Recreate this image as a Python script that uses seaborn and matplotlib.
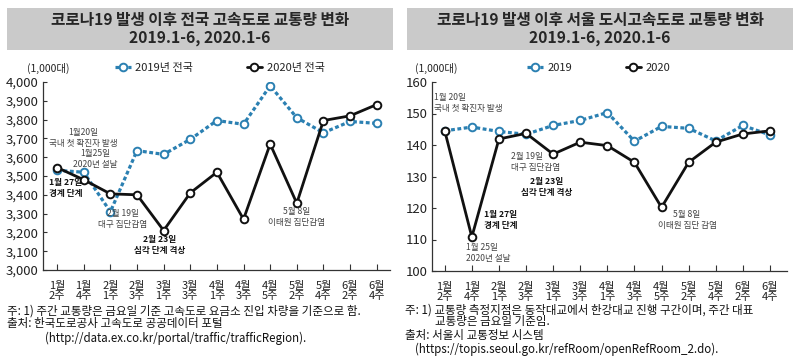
import matplotlib
matplotlib.use("Agg")
import matplotlib.pyplot as plt
from matplotlib.patches import Rectangle
from matplotlib.lines import Line2D
import seaborn as sns
import pandas as pd

# ---------------- data ----------------
week_labels = ["1월\n2주", "1월\n4주", "2월\n1주", "2월\n3주", "3월\n1주", "3월\n3주",
               "4월\n1주", "4월\n3주", "4월\n5주", "5월\n2주", "5월\n4주", "6월\n2주", "6월\n4주"]

national_2019 = [3530, 3520, 3310, 3635, 3615, 3695, 3795, 3775, 3980, 3810, 3730, 3790, 3780]
national_2020 = [3545, 3480, 3405, 3400, 3210, 3410, 3520, 3270, 3670, 3355, 3795, 3820, 3880]

seoul_2019 = [144.5, 145.7, 144.3, 143.4, 146.2, 147.8, 150.3, 141.2, 145.9, 145.3, 141.3, 146.2, 143.2]
seoul_2020 = [144.5, 110.8, 141.9, 143.7, 137.1, 140.9, 139.8, 134.5, 120.2, 134.5, 140.9, 143.5, 144.5]

left_title = "코로나19 발생 이후 전국 고속도로 교통량 변화\n2019.1-6, 2020.1-6"
right_title = "코로나19 발생 이후 서울 도시고속도로 교통량 변화\n2019.1-6, 2020.1-6"
left_legend = ["2019년 전국", "2020년 전국"]
right_legend = ["2019", "2020"]
unit_label = "(1,000대)"

left_yticks = [3000, 3100, 3200, 3300, 3400, 3500, 3600, 3700, 3800, 3900, 4000]
right_yticks = [100, 110, 120, 130, 140, 150, 160]

# ---------------- style ----------------
sns.set_style("ticks")
FONT = ["Noto Sans CJK KR", "DejaVu Sans"]
plt.rcParams["font.family"] = FONT

BLUE = "#2b80b2"
BLACK = "#111111"
GREY_TXT = "#444444"

fig = plt.figure(figsize=(8.0, 3.64), dpi=100)

def px(x, y):
    return x / 800.0, 1 - y / 364.0

# title boxes
for x0, x1 in [(7, 393), (407, 793)]:
    fig.patches.append(Rectangle(px(x0, 50), (x1 - x0) / 800.0, 42 / 364.0,
                                 transform=fig.transFigure, facecolor="#cacaca",
                                 edgecolor="none", zorder=0))
fig.text(*px(200, 29), left_title, ha="center", va="center", fontsize=11.3,
         fontweight="bold", linespacing=1.05)
fig.text(*px(600, 29), right_title, ha="center", va="center", fontsize=11.3,
         fontweight="bold", linespacing=1.05)

ax1 = fig.add_axes([43 / 800, 1 - 270 / 364, 347 / 800, 188 / 364])
ax2 = fig.add_axes([432 / 800, 1 - 271 / 364, 355 / 800, 189 / 364])

def draw(ax, v2019, v2020, labels, yticks, xlim, legend_x):
    x = list(range(len(week_labels)))
    df = pd.DataFrame({"x": x + x,
                       "v": v2019 + v2020,
                       "year": [labels[0]] * len(x) + [labels[1]] * len(x)})
    sns.lineplot(data=df[df.year == labels[0]], x="x", y="v", ax=ax, color=BLUE,
                 lw=2.3, linestyle=(0, (1.2, 0.8)), marker="o", markersize=5.5,
                 markerfacecolor="white", markeredgecolor=BLUE, markeredgewidth=1.4,
                 zorder=3, legend=False)
    sns.lineplot(data=df[df.year == labels[1]], x="x", y="v", ax=ax, color=BLACK,
                 lw=2.0, marker="o", markersize=5.5,
                 markerfacecolor="white", markeredgecolor=BLACK, markeredgewidth=1.4,
                 zorder=4, legend=False)
    ax.set_xlim(*xlim)
    ax.set_ylim(yticks[0], yticks[-1])
    ax.set_yticks(yticks)
    ax.set_xticks(x)
    ax.set_xticklabels(week_labels, fontsize=8, linespacing=1.0, color="#222222")
    ax.set_xlabel("")
    ax.set_ylabel("")
    ax.tick_params(axis="x", direction="in", length=4, width=0.8, pad=8, colors="#333333",
                   labelcolor="#222222")
    ax.tick_params(axis="y", direction="in", length=3, width=0.8, labelsize=9.5,
                   colors="#333333", labelcolor="#222222", pad=3)
    for s in ["top", "right"]:
        ax.spines[s].set_visible(False)
    for s in ["left", "bottom"]:
        ax.spines[s].set_color("#333333")
        ax.spines[s].set_linewidth(0.9)
    handles = [Line2D([], [], color=BLUE, lw=2.3, linestyle=(0, (1.2, 0.8)), marker="o",
                      markersize=5.5, markerfacecolor="white", markeredgecolor=BLUE,
                      markeredgewidth=1.4),
               Line2D([], [], color=BLACK, lw=2.0, marker="o", markersize=5.5,
                      markerfacecolor="white", markeredgecolor=BLACK, markeredgewidth=1.4)]
    ax.legend(handles, labels, ncol=2, frameon=False, loc="center",
              bbox_to_anchor=(legend_x, 1.075), handlelength=1.4, handletextpad=0.4,
              columnspacing=4.8, fontsize=8, labelcolor="#222222")

draw(ax1, national_2019, national_2020, left_legend, left_yticks, (-0.53, 12.5), 0.51)
ax1.yaxis.set_major_formatter(matplotlib.ticker.FuncFormatter(lambda v, p: f"{int(v):,}"))
draw(ax2, seoul_2019, seoul_2020, right_legend, right_yticks, (-0.47, 12.63), 0.47)

fig.text(*px(27, 68), unit_label, fontsize=7.5, va="center", ha="left", color="#222222")
fig.text(*px(415, 68), unit_label, fontsize=7.5, va="center", ha="left", color="#222222")

# annotations
AF = 6.2
def note(x, y, s, bold=False, ha="center"):
    fig.text(*px(x, y), s, fontsize=AF, ha=ha, va="center", linespacing=1.2,
             fontweight="bold" if bold else "normal",
             color=BLACK if bold else GREY_TXT)

# left
note(83, 138, "1월20일\n국내 첫 확진자 발생")
note(95, 159, "1월25일\n2020년 설날")
note(49, 188, "1월 27일\n경계 단계", bold=True, ha="left")
note(123, 219, "2월 19일\n대구 집단감염")
note(160, 245, "2월 23일\n심각 단계 격상", bold=True)
note(297, 217, "5월 8일\n이태원 집단감염")

# right
note(434, 103, "1월 20일\n국내 첫 확진자 발생", ha="left")
note(511, 162, "2월 19일\n대구 집단감염", ha="left")
note(547, 187, "2월 23일\n심각 단계 격상", bold=True)
note(484, 220, "1월 27일\n경계 단계", bold=True, ha="left")
note(466, 253, "1월 25일\n2020년 설날", ha="left")
note(687, 220, "5월 8일\n이태원 집단 감염")

# footnotes
FF = 8.3
def foot(x, y, s):
    fig.text(*px(x, y), s, fontsize=FF, va="center", ha="left", color="#111111")

foot(7, 311, "주: 1) 주간 교통량은 금요일 기준 고속도로 요금소 진입 차량을 기준으로 함.")
foot(7, 324, "출처: 한국도로공사 고속도로 공공데이터 포털")
foot(45, 338, "(http://data.ex.co.kr/portal/traffic/trafficRegion).")

foot(405, 310, "주: 1) 교통량 측정지점은 동작대교에서 한강대교 진행 구간이며, 주간 대표")
foot(435, 322, "교통량은 금요일 기준임.")
foot(405, 335, "출처: 서울시 교통정보 시스템")
foot(415, 349, "(https://topis.seoul.go.kr/refRoom/openRefRoom_2.do).")

fig.savefig("out.png", dpi=100)
